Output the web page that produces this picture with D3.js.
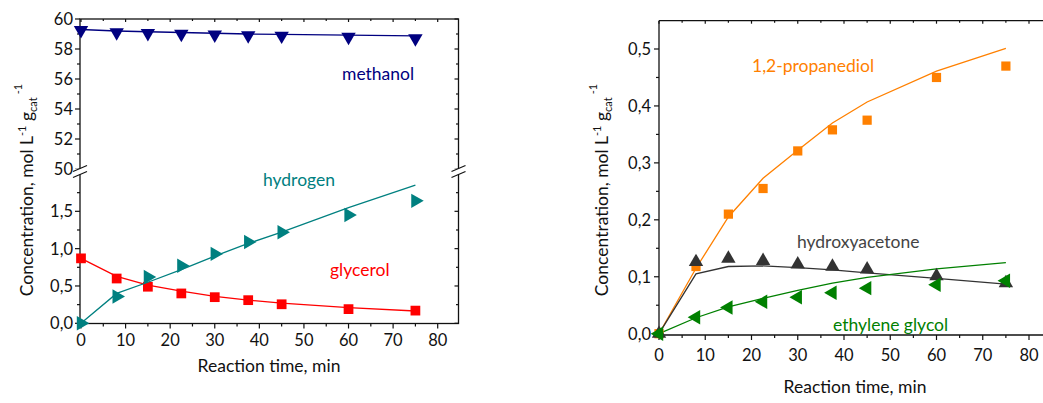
<!DOCTYPE html>
<html><head><meta charset="utf-8">
<script src="https://cdn.jsdelivr.net/npm/d3@7"></script>
<style>
body{margin:0;background:#fff;}
svg{display:block;font-family:Lato,"Open Sans",sans-serif;}
</style></head><body>
<svg id="c" width="1043" height="403"></svg>
<script>
// ---------- data ----------
const time = [0, 8, 15, 22.5, 30, 37.5, 45, 60, 75];
const xTicks = [0, 10, 20, 30, 40, 50, 60, 70, 80];
const upperTicks = [50, 52, 54, 56, 58, 60];
const lowerTicks = [0, 0.5, 1.0, 1.5];
const rightTicks = [0, 0.1, 0.2, 0.3, 0.4, 0.5];

const methanolPts = [59.25, 59.1, 59.05, 59.0, 58.95, 58.9, 58.88, 58.8, 58.7];
const methanolFit = [59.3, 59.2, 59.15, 59.1, 59.05, 59.0, 58.98, 58.93, 58.88];
const glycerolPts = [0.87, 0.60, 0.49, 0.40, 0.35, 0.31, 0.255, 0.19, 0.17];
const glycerolFit = [0.87, 0.63, 0.51, 0.43, 0.36, 0.31, 0.27, 0.21, 0.165];
const hydrogenPts = [0.0, 0.36, 0.62, 0.77, 0.93, 1.09, 1.22, 1.45, 1.64];
const hydrogenFit = [0.0, 0.40, 0.55, 0.72, 0.90, 1.07, 1.22, 1.55, 1.85];

const propanediolPts = [0.0, 0.118, 0.21, 0.255, 0.321, 0.358, 0.375, 0.45, 0.47];
const propanediolFit = [0.0, 0.115, 0.205, 0.273, 0.322, 0.37, 0.407, 0.461, 0.501];
const hydroxyacetonePts = [0.0, 0.126, 0.132, 0.128, 0.122, 0.118, 0.113, 0.101, 0.089];
const hydroxyacetoneFit = [0.0, 0.105, 0.118, 0.119, 0.116, 0.112, 0.107, 0.097, 0.087];
const ethyleneGlycolPts = [0.0, 0.029, 0.046, 0.056, 0.064, 0.072, 0.080, 0.086, 0.093];
const ethyleneGlycolFit = [0.0, 0.028, 0.047, 0.062, 0.076, 0.089, 0.099, 0.114, 0.125];

// ---------- helpers ----------
const svg = d3.select("#c");
const loc = d3.formatLocale({decimal: ",", thousands: ".", grouping: [3], currency: ["", ""]});
const f0 = loc.format("d"), f1 = loc.format(".1f");
const FS = 16.5;

function line(g, xs, ys, vals, color) {
  g.append("path")
    .datum(time.map((t, i) => [t, vals[i]]))
    .attr("fill", "none").attr("stroke", color).attr("stroke-width", 1.3)
    .attr("d", d3.line().x(d => xs(d[0])).y(d => ys(d[1])));
}
function markers(g, xs, ys, vals, color, shape, size, rot) {
  g.selectAll(null).data(time.map((t, i) => [t, vals[i]])).enter()
    .append("path")
    .attr("d", d3.symbol().type(shape).size(size)())
    .attr("fill", color)
    .attr("transform", d => `translate(${xs(d[0])},${ys(d[1])}) rotate(${rot})`);
}
function label(x, y, txt, color, size) {
  svg.append("text").attr("x", x).attr("y", y).attr("fill", color)
    .attr("font-size", size || 17.5).text(txt);
}
function yTitle(x, y) {
  const t = svg.append("text").attr("transform", `translate(${x},${y}) rotate(-90)`)
    .attr("text-anchor", "middle").attr("font-size", 17.5).attr("fill", "#111");
  t.append("tspan").text("Concentration, mol L");
  t.append("tspan").attr("dy", -7).attr("font-size", 11).text("-1");
  t.append("tspan").attr("dy", 7).text(" g");
  t.append("tspan").attr("dy", 4).attr("font-size", 11).text("cat");
  t.append("tspan").attr("dy", -15).attr("dx", 3).attr("font-size", 11).text("-1");
}
function vTicks(g, ys, ticks, x0, dir, len) {
  g.selectAll(null).data(ticks).enter().append("line")
    .attr("x1", x0).attr("x2", x0 + dir * len)
    .attr("y1", d => ys(d)).attr("y2", d => ys(d))
    .attr("stroke", "#111").attr("stroke-width", 1.2);
}
function hTicks(g, xs, ticks, y0, dir, len) {
  g.selectAll(null).data(ticks).enter().append("line")
    .attr("y1", y0).attr("y2", y0 + dir * len)
    .attr("x1", d => xs(d)).attr("x2", d => xs(d))
    .attr("stroke", "#111").attr("stroke-width", 1.2);
}
function breakMark(g, x, y) {
  g.append("rect").attr("x", x - 5).attr("y", y - 3).attr("width", 10).attr("height", 6).attr("fill", "#fff");
  [-3, 3].forEach(o => g.append("line")
    .attr("x1", x - 7).attr("y1", y + o + 3).attr("x2", x + 7).attr("y2", y + o - 3)
    .attr("stroke", "#111").attr("stroke-width", 1.2));
}

// ---------- left chart ----------
{
  const L = 80, R = 458.5, T = 19, B = 323.5;
  const x = d3.scaleLinear().domain([0, 80]).range([81, 437.7]);
  const yU = d3.scaleLinear().domain([50, 60]).range([169, 19]);
  const yL = d3.scaleLinear().domain([0, 2]).range([323.3, 174]);
  const g = svg.append("g");
  const minorX = d3.range(5, 85, 10);
  const minorU = d3.range(51, 60, 2);
  const minorL = [0.25, 0.75, 1.25, 1.75];

  // frame
  g.append("rect").attr("x", L).attr("y", T).attr("width", R - L).attr("height", B - T)
    .attr("fill", "none").attr("stroke", "#111").attr("stroke-width", 1.3);
  hTicks(g, x, xTicks, B, 1, 5); hTicks(g, x, minorX, B, 1, 3);
  hTicks(g, x, xTicks, T, 1, 3); hTicks(g, x, minorX, T, 1, 2);
  vTicks(g, yU, upperTicks, L, -1, 5); vTicks(g, yU, minorU, L, -1, 3);
  vTicks(g, yL, lowerTicks, L, -1, 5); vTicks(g, yL, minorL, L, -1, 3);
  vTicks(g, yU, upperTicks, R, -1, 4); vTicks(g, yU, minorU, R, -1, 2.5);
  vTicks(g, yL, lowerTicks, R, -1, 4); vTicks(g, yL, minorL, R, -1, 2.5);
  breakMark(g, L, 171.5); breakMark(g, R, 171.5);

  g.selectAll(null).data(xTicks).enter().append("text")
    .attr("x", d => x(d)).attr("y", 346).attr("text-anchor", "middle")
    .attr("font-size", FS).attr("fill", "#111").text(f0);
  g.selectAll(null).data(upperTicks).enter().append("text")
    .attr("x", 73).attr("y", d => yU(d) + 6).attr("text-anchor", "end")
    .attr("font-size", FS).attr("fill", "#111").text(f0);
  g.selectAll(null).data(lowerTicks).enter().append("text")
    .attr("x", 73).attr("y", d => yL(d) + 6).attr("text-anchor", "end")
    .attr("font-size", FS).attr("fill", "#111").text(f1);

  line(g, x, yU, methanolFit, "#000080");
  markers(g, x, yU, methanolPts, "#000080", d3.symbolTriangle, 90, 180);
  line(g, x, yL, glycerolFit, "#ff0000");
  markers(g, x, yL, glycerolPts, "#ff0000", d3.symbolSquare, 95, 0);
  line(g, x, yL, hydrogenFit, "#008080");
  markers(g, x, yL, hydrogenPts, "#008080", d3.symbolTriangle, 90, 90);

  label(342, 80, "methanol", "#000080");
  label(263, 186, "hydrogen", "#008080");
  label(330, 276, "glycerol", "#ff0000");
  svg.append("text").attr("x", 269).attr("y", 372).attr("text-anchor", "middle")
    .attr("font-size", 17.5).attr("fill", "#111").text("Reaction time, min");
  yTitle(33, 190);
}

// ---------- right chart ----------
{
  const L = 659, R = 1070, T = 20.7, B = 335;
  const x = d3.scaleLinear().domain([0, 80]).range([659, 1029]);
  const y = d3.scaleLinear().domain([0, 0.5]).range([333.7, 49]);
  const g = svg.append("g");
  const minorX = d3.range(5, 90, 10);
  const minorY = [0.05, 0.15, 0.25, 0.35, 0.45];

  g.append("line").attr("x1", L).attr("x2", L).attr("y1", T).attr("y2", B).attr("stroke", "#111").attr("stroke-width", 1.3);
  g.append("line").attr("x1", L).attr("x2", R).attr("y1", T).attr("y2", T).attr("stroke", "#111").attr("stroke-width", 1.3);
  g.append("line").attr("x1", L).attr("x2", R).attr("y1", B).attr("y2", B).attr("stroke", "#111").attr("stroke-width", 1.3);
  hTicks(g, x, xTicks, B, 1, 5); hTicks(g, x, minorX, B, 1, 3);
  hTicks(g, x, xTicks, T, 1, 3); hTicks(g, x, minorX, T, 1, 2);
  vTicks(g, y, rightTicks, L, -1, 5); vTicks(g, y, minorY, L, -1, 3);

  g.selectAll(null).data(xTicks).enter().append("text")
    .attr("x", d => x(d)).attr("y", 361).attr("text-anchor", "middle")
    .attr("font-size", FS).attr("fill", "#111").text(f0);
  g.selectAll(null).data(rightTicks).enter().append("text")
    .attr("x", 651).attr("y", d => y(d) + 6).attr("text-anchor", "end")
    .attr("font-size", FS).attr("fill", "#111").text(f1);

  line(g, x, y, propanediolFit, "#ff8000");
  line(g, x, y, hydroxyacetoneFit, "#333333");
  line(g, x, y, ethyleneGlycolFit, "#008000");
  markers(g, x, y, propanediolPts, "#ff8000", d3.symbolSquare, 85, 0);
  markers(g, x, y, hydroxyacetonePts, "#333333", d3.symbolTriangle, 90, 0);
  markers(g, x, y, ethyleneGlycolPts, "#008000", d3.symbolTriangle, 90, -90);

  label(752, 72, "1,2-propanediol", "#ff8000");
  label(797, 248, "hydroxyacetone", "#444444");
  label(833, 331, "ethylene glycol", "#008000");
  svg.append("text").attr("x", 855).attr("y", 393).attr("text-anchor", "middle")
    .attr("font-size", 17.5).attr("fill", "#111").text("Reaction time, min");
  yTitle(608, 190);
}
</script>
</body></html>
